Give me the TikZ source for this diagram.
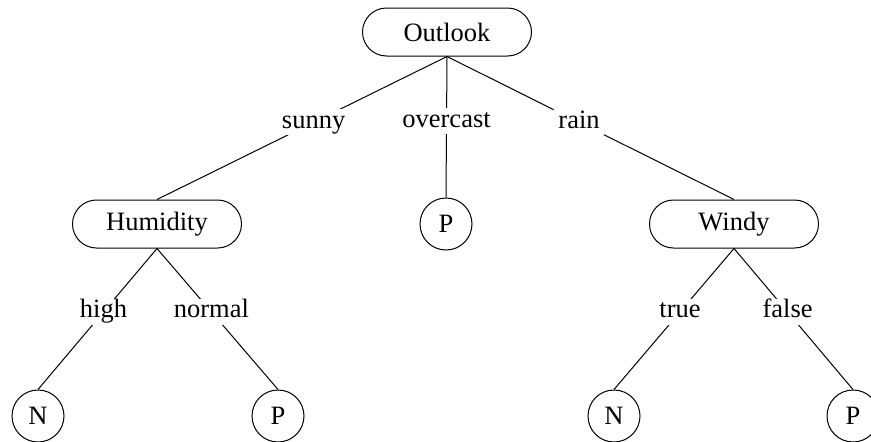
\documentclass[tikz,border=0pt]{standalone}
\usepackage{fontspec}
\setmainfont{Liberation Serif}
\begin{document}
\begin{tikzpicture}[x=1pt,y=-1pt,
  every node/.style={font=\fontsize{26.5}{30}\selectfont},
  attr/.style={draw, line width=1pt, rounded corners=24pt, minimum width=169pt, minimum height=48pt, inner sep=0pt},
  leaf/.style={draw, circle, line width=1pt, minimum size=52pt, inner sep=0pt},
  lbl/.style={fill=white, inner sep=4pt, text height=15pt, text depth=3pt, pos=0.46},
  edge/.style={line width=1pt}]
\useasboundingbox (0,0) rectangle (871,442);
\node[attr] (o) at (447,32) {Outlook};
\node[attr] (h) at (157,224) {Humidity};
\node[attr] (w) at (734,224) {Windy};
\node[leaf] (pm) at (446,224) {P};
\node[leaf] (n1) at (38,416) {N};
\node[leaf] (p1) at (278,416) {P};
\node[leaf] (n2) at (614,416) {N};
\node[leaf] (p2) at (853,416) {P};
\draw[edge] (o.south) -- node[lbl] (ls) {sunny} (h.north);
\draw[edge] (o.south) -- node[lbl] (lo) {overcast} (pm.north);
\draw[edge] (o.south) -- node[lbl] (lr) {rain} (w.north);
\draw[edge] (h.south) -- node[lbl,pos=0.45] (lh) {high} (n1.north);
\draw[edge] (h.south) -- node[lbl,pos=0.45] (ln) {normal} (p1.north);
\draw[edge] (w.south) -- node[lbl,pos=0.45] (lt) {true} (n2.north);
\draw[edge] (w.south) -- node[lbl,pos=0.45] (lf) {false} (p2.north);
\end{tikzpicture}
\end{document}
